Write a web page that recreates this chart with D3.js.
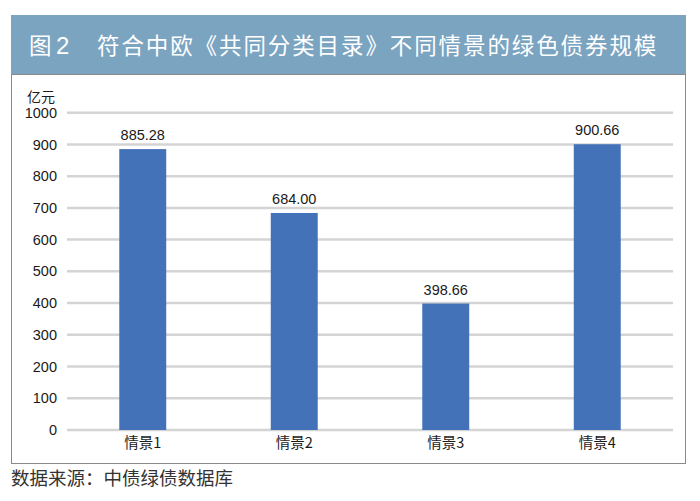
<!DOCTYPE html>
<html lang="zh-CN">
<head>
  <meta charset="UTF-8" />
  <title>图2 符合中欧《共同分类目录》不同情景的绿色债券规模</title>
  <script src="https://d3js.org/d3.v7.min.js"></script>
  <style>
    html, body { margin: 0; padding: 0; background: #fff; }
    svg { display: block; font-family: "Noto Sans CJK SC", "Noto Sans", sans-serif; }
    .tick text { font-family: "Liberation Sans", Arial, sans-serif; }
  </style>
</head>
<body>
  <div id="chart"></div>
  <script>
    const width = 700, height = 501;

    // 数据
    const categories = ['情景1', '情景2', '情景3', '情景4'];
    const values = [885.28, 684.00, 398.66, 900.66];
    const yTicks = [0, 100, 200, 300, 400, 500, 600, 700, 800, 900, 1000];

    const svg = d3.select('#chart').append('svg')
      .attr('width', width)
      .attr('height', height);

    // 标题栏
    svg.append('rect')
      .attr('x', 11).attr('y', 15)
      .attr('width', 675).attr('height', 59)
      .attr('fill', '#7ba4c1');
    svg.append('text')
      .attr('x', 29).attr('y', 53.5)
      .attr('fill', '#fff')
      .attr('font-size', 22.5)
      .text('图');
    svg.append('text')
      .attr('x', 56).attr('y', 53.5)
      .attr('fill', '#fff')
      .attr('font-family', '"Liberation Sans", Arial, sans-serif')
      .attr('font-size', 24)
      .text('2');
    svg.append('text')
      .attr('x', 97).attr('y', 53.5)
      .attr('fill', '#fff')
      .attr('font-size', 22.5)
      .attr('letter-spacing', 1.9)
      .text('符合中欧《共同分类目录》不同情景的绿色债券规模');

    // 图表边框
    svg.append('rect')
      .attr('x', 11.5).attr('y', 74.5)
      .attr('width', 674).attr('height', 389)
      .attr('fill', 'none')
      .attr('stroke', '#8a8a8a')
      .attr('stroke-width', 1);

    const x = d3.scaleBand().domain(categories).range([67, 673]).paddingInner(0.69).paddingOuter(0.345);
    const y = d3.scaleLinear().domain([0, 1000]).range([430, 112.7]);

    // 网格线
    svg.append('g')
      .selectAll('line')
      .data(yTicks)
      .join('line')
      .attr('x1', 67).attr('x2', 673)
      .attr('y1', d => y(d)).attr('y2', d => y(d))
      .attr('stroke', '#d4d4d4')
      .attr('stroke-width', 2.5);

    // y 轴
    const yAxis = svg.append('g')
      .attr('transform', 'translate(67,0)')
      .call(d3.axisLeft(y).tickValues(yTicks).tickFormat(d3.format('d')).tickSize(0).tickPadding(10));
    yAxis.select('.domain').remove();
    yAxis.selectAll('text').attr('font-size', 14.5).attr('fill', '#1a1a1a');

    svg.append('text')
      .attr('x', 41).attr('y', 102)
      .attr('text-anchor', 'middle')
      .attr('font-size', 14)
      .attr('fill', '#1a1a1a')
      .text('亿元');

    // 柱子
    svg.append('g')
      .selectAll('rect')
      .data(values)
      .join('rect')
      .attr('x', (d, i) => x(categories[i]))
      .attr('y', d => y(d))
      .attr('width', x.bandwidth())
      .attr('height', d => y(0) - y(d))
      .attr('fill', '#4472b8');

    // 数值标签
    svg.append('g')
      .selectAll('text')
      .data(values)
      .join('text')
      .attr('x', (d, i) => x(categories[i]) + x.bandwidth() / 2)
      .attr('y', d => y(d) - 9)
      .attr('text-anchor', 'middle')
      .attr('font-family', '"Liberation Sans", Arial, sans-serif')
      .attr('font-size', 14.5)
      .attr('fill', '#1a1a1a')
      .text(d => d.toFixed(2));

    // x 轴
    const xAxis = svg.append('g')
      .attr('transform', 'translate(0,430)')
      .call(d3.axisBottom(x).tickSize(0).tickPadding(8));
    xAxis.select('.domain').remove();
    xAxis.selectAll('text')
      .attr('font-size', 14.5)
      .attr('fill', '#1a1a1a')
      .style('font-family', '"Noto Sans CJK SC", sans-serif');

    // 数据来源
    svg.append('text')
      .attr('x', 11).attr('y', 485)
      .attr('font-size', 18.5)
      .attr('fill', '#333')
      .text('数据来源：中债绿债数据库');
  </script>
</body>
</html>
